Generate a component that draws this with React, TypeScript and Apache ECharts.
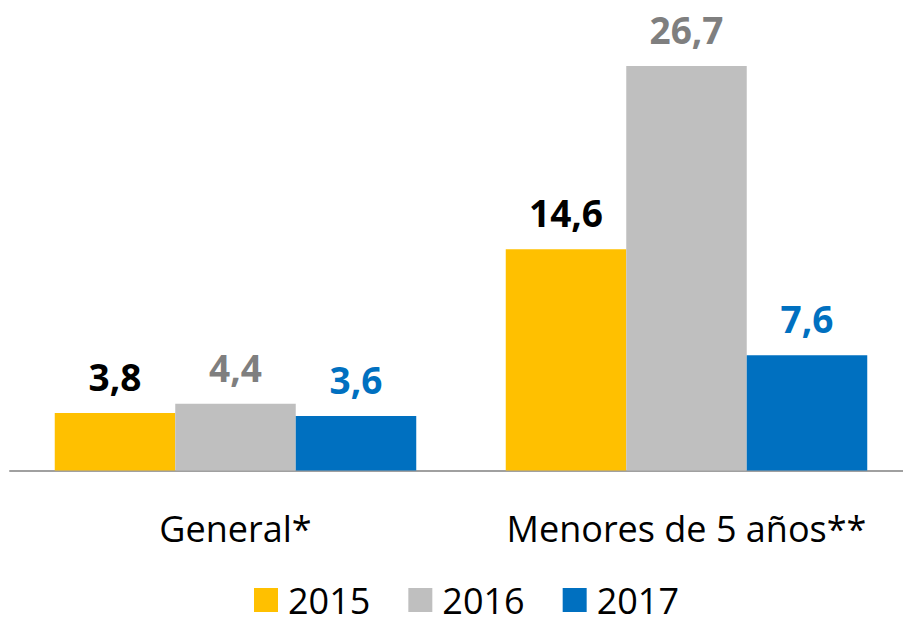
import React, { useEffect, useRef } from "react";
import * as echarts from "echarts";

const categories = ["General*", "Menores de 5 años**"];
const seriesNames = ["2015", "2016", "2017"];
const values2015 = [3.8, 14.6];
const values2016 = [4.4, 26.7];
const values2017 = [3.6, 7.6];
const barColors = ["#FFC000", "#BFBFBF", "#0070C0"];
const labelColors = ["#000000", "#7F7F7F", "#0070C0"];

const FONT = "'Open Sans', 'DejaVu Sans', sans-serif";

export default function App() {
  const ref = useRef<HTMLDivElement>(null);
  useEffect(() => {
    document.body.style.margin = "0";
    document.body.style.overflow = "hidden";
    document.documentElement.style.overflow = "hidden";
    if (!ref.current) return;
    const chart = echarts.init(ref.current, null, { renderer: "svg" });
    const data = [values2015, values2016, values2017];
    chart.setOption({
      animation: false,
      backgroundColor: "#ffffff",
      textStyle: { fontFamily: FONT },
      grid: { left: 10, top: 16, width: 902, height: 454.5, containLabel: false },
      legend: {
        data: seriesNames,
        left: 249,
        top: 577,
        icon: "rect",
        itemWidth: 24,
        itemHeight: 24,
        itemGap: 38,
        textStyle: { fontSize: 36, color: "#000", fontFamily: FONT, lineHeight: 28, padding: [0, 0, 0, 5] },
      },
      xAxis: {
        type: "category",
        data: categories,
        axisLine: { show: true, lineStyle: { color: "#A0A0A0", width: 2 } },
        axisTick: { show: false },
        axisLabel: { interval: 0, fontSize: 36, color: "#000", fontFamily: FONT, margin: 40, lineHeight: 36 },
      },
      yAxis: {
        type: "value",
        min: 0,
        max: 30,
        show: false,
        splitLine: { show: false },
      },
      series: seriesNames.map((name, i) => ({
        name,
        type: "bar",
        data: data[i],
        barWidth: 120.5,
        barGap: "0%",
        itemStyle: { color: barColors[i] },
        label: {
          show: true,
          position: "top",
          distance: 18,
          formatter: (p: any) => String(p.value).replace(".", ","),
          fontSize: 37,
          fontWeight: "bold",
          fontFamily: FONT,
          color: labelColors[i],
          lineHeight: 37,
        },
      })),
    });
    return () => chart.dispose();
  }, []);
  return (
    <div style={{ width: 903, height: 617, overflow: "hidden" }}>
      <div ref={ref} style={{ width: 913, height: 617 }} />
    </div>
  );
}
